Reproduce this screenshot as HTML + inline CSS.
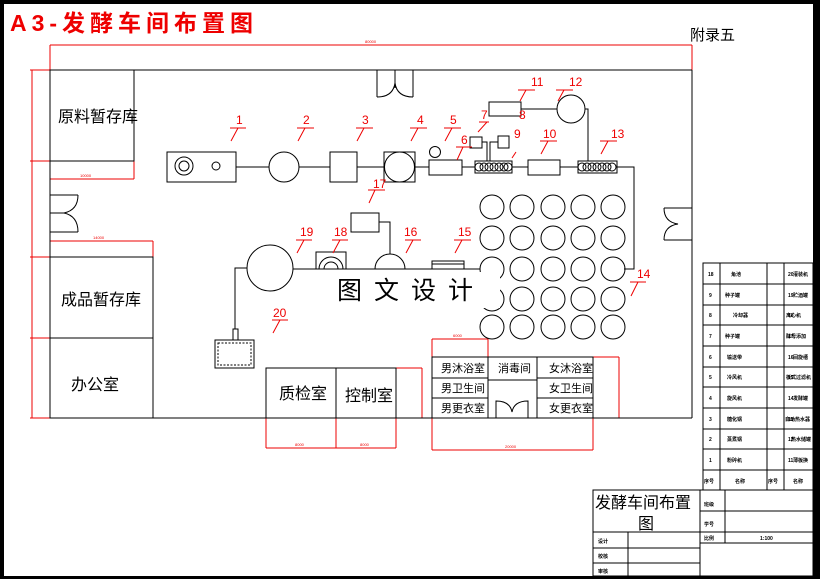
<!DOCTYPE html>
<html><head><meta charset="utf-8"><style>
html,body{margin:0;padding:0;background:#fff;}
svg{display:block;}
text{font-family:"Liberation Sans","Noto Sans CJK SC",sans-serif;}
</style></head><body>
<svg width="820" height="579" viewBox="0 0 820 579" xmlns="http://www.w3.org/2000/svg">
<rect x="0" y="0" width="820" height="579" fill="#fff"/>
<rect x="0" y="0" width="820" height="4" fill="#000"/>
<rect x="0" y="0" width="4" height="579" fill="#000"/>
<rect x="813" y="0" width="7" height="579" fill="#000"/>
<rect x="0" y="576" width="820" height="3" fill="#000"/>

<text x="10" y="31" font-size="23" fill="#e00" font-weight="bold" letter-spacing="5">A3-发酵车间布置图</text>
<text x="690" y="40" font-size="15" fill="#000" font-family="Noto Serif CJK SC,serif">附录五</text>

<g fill="none" stroke="#e00" stroke-width="1">
<line x1="50" y1="45" x2="692" y2="45"/><line x1="50" y1="45" x2="50" y2="70"/><line x1="692" y1="45" x2="692" y2="70"/>
<line x1="32" y1="70" x2="32" y2="418"/>
<line x1="30" y1="70" x2="50" y2="70"/><line x1="30" y1="161" x2="50" y2="161"/><line x1="30" y1="257" x2="50" y2="257"/><line x1="30" y1="338" x2="50" y2="338"/><line x1="30" y1="418" x2="50" y2="418"/>
<line x1="50" y1="179" x2="134" y2="179"/><line x1="134" y1="161" x2="134" y2="179"/>
<line x1="50" y1="241" x2="153" y2="241"/><line x1="153" y1="241" x2="153" y2="257"/>
<line x1="266" y1="418" x2="266" y2="448"/><line x1="336" y1="418" x2="336" y2="448"/><line x1="396" y1="368" x2="396" y2="448"/>
<line x1="266" y1="448" x2="396" y2="448"/>
<line x1="396" y1="368" x2="422" y2="368"/><line x1="422" y1="368" x2="422" y2="418"/>
<line x1="432" y1="339" x2="488" y2="339"/><line x1="432" y1="339" x2="432" y2="450"/><line x1="488" y1="339" x2="488" y2="357"/>
<line x1="432" y1="450" x2="593" y2="450"/><line x1="593" y1="418" x2="593" y2="450"/>
<line x1="593" y1="357" x2="619" y2="357"/><line x1="619" y1="357" x2="619" y2="418"/>
</g>
<g fill="#e00" font-size="4">
<text x="365" y="43">80000</text><text x="80" y="177">10000</text><text x="93" y="239">14000</text>
<text x="295" y="446">8000</text><text x="360" y="446">8000</text><text x="505" y="448">20000</text><text x="453" y="337">6000</text>
</g>

<g fill="none" stroke="#000" stroke-width="1">
<line x1="50" y1="70" x2="692" y2="70"/>
<line x1="692" y1="70" x2="692" y2="418"/>
<line x1="50" y1="418" x2="692" y2="418"/>
<line x1="50" y1="70" x2="50" y2="418"/>
<rect x="50" y="70" width="84" height="91"/>
<rect x="50" y="257" width="103" height="81"/>
<rect x="50" y="338" width="103" height="80"/>
<path d="M50 195 H78 M50 213 H64 M50 232 H78 M78 195 Q78 210 64 213 Q78 216 78 232"/>
<path d="M377 70 V97 M395 70 V88 M413 70 V97 M377 97 Q393 97 395 83 Q397 97 413 97"/>
<path d="M692 208 H664 M692 240 H664 M664 208 Q664 222 678 224 Q664 226 664 240"/>

<rect x="167" y="152" width="69" height="30"/>
<circle cx="184" cy="166" r="9"/><circle cx="184" cy="166" r="5"/><circle cx="216" cy="166" r="4"/>
<line x1="236" y1="167" x2="269" y2="167"/>
<circle cx="284" cy="167" r="15"/>
<line x1="299" y1="167" x2="330" y2="167"/>
<rect x="330" y="152" width="27" height="30"/>
<line x1="357" y1="167" x2="384" y2="167"/>
<rect x="384" y="152" width="31" height="30"/><circle cx="399.5" cy="167" r="15"/>
<line x1="415" y1="167" x2="429" y2="167"/>
<circle cx="435" cy="152" r="5.5"/>
<rect x="429" y="160" width="33" height="15"/>
<line x1="462" y1="167" x2="475" y2="167"/>
<rect x="475" y="161" width="37" height="12"/>
<g><circle cx="479" cy="167" r="4"/><circle cx="484" cy="167" r="4"/><circle cx="489" cy="167" r="4"/><circle cx="494" cy="167" r="4"/><circle cx="499" cy="167" r="4"/><circle cx="504" cy="167" r="4"/><circle cx="508" cy="167" r="4"/></g>
<rect x="470" y="137" width="12" height="11"/><rect x="498" y="136" width="11" height="12"/>
<path d="M482 142 H487 V161 M490 161 V142 H498"/>
<line x1="512" y1="167" x2="528" y2="167"/>
<rect x="528" y="160" width="32" height="15"/>
<line x1="560" y1="167" x2="578" y2="167"/>
<rect x="578" y="161" width="39" height="12"/>
<g><circle cx="582" cy="167" r="4"/><circle cx="587" cy="167" r="4"/><circle cx="592" cy="167" r="4"/><circle cx="597" cy="167" r="4"/><circle cx="602" cy="167" r="4"/><circle cx="607" cy="167" r="4"/><circle cx="612" cy="167" r="4"/></g>
<rect x="489" y="102" width="32" height="14"/>
<line x1="521" y1="109" x2="557" y2="109"/>
<circle cx="571" cy="109" r="14"/>
<path d="M585 109 H588 V161"/>
<path d="M617 167 H634 V269 H624"/>

<g>
<circle cx="492" cy="207" r="12"/><circle cx="522" cy="207" r="12"/><circle cx="553" cy="207" r="12"/><circle cx="583" cy="207" r="12"/><circle cx="613" cy="207" r="12"/>
<circle cx="492" cy="238" r="12"/><circle cx="522" cy="238" r="12"/><circle cx="553" cy="238" r="12"/><circle cx="583" cy="238" r="12"/><circle cx="613" cy="238" r="12"/>
<circle cx="492" cy="269" r="12"/><circle cx="522" cy="269" r="12"/><circle cx="553" cy="269" r="12"/><circle cx="583" cy="269" r="12"/><circle cx="613" cy="269" r="12"/>
<circle cx="492" cy="299" r="12"/><circle cx="522" cy="299" r="12"/><circle cx="553" cy="299" r="12"/><circle cx="583" cy="299" r="12"/><circle cx="613" cy="299" r="12"/>
<circle cx="492" cy="327" r="12"/><circle cx="522" cy="327" r="12"/><circle cx="553" cy="327" r="12"/><circle cx="583" cy="327" r="12"/><circle cx="613" cy="327" r="12"/>
</g>

<line x1="293" y1="269" x2="480" y2="269"/>
<circle cx="270" cy="268" r="23"/>
<path d="M247 268 H235 V329"/>
<rect x="233" y="329" width="5" height="11"/>
<rect x="215" y="340" width="39" height="28"/>
<rect x="316" y="252" width="30" height="17"/>
<path d="M319 269 A12 12 0 0 1 343 269 M324 269 A7 7 0 0 1 338 269"/>
<path d="M375 269 A15 15 0 0 1 405 269"/>
<rect x="351" y="213" width="28" height="19"/>
<path d="M379 222 H390 V254"/>
<rect x="432" y="261" width="32" height="8"/><line x1="432" y1="264" x2="464" y2="264"/>

<rect x="266" y="368" width="70" height="50"/>
<rect x="336" y="368" width="60" height="50"/>
<rect x="432" y="357" width="161" height="61"/>
<line x1="488" y1="357" x2="488" y2="418"/><line x1="537" y1="357" x2="537" y2="418"/>
<line x1="432" y1="378" x2="488" y2="378"/><line x1="432" y1="398" x2="488" y2="398"/>
<line x1="537" y1="378" x2="593" y2="378"/><line x1="537" y1="398" x2="593" y2="398"/>
<line x1="488" y1="380" x2="537" y2="380"/>
<path d="M496 418 V401 Q510 401 512 412 Q514 401 528 401 V418"/>
</g>
<rect x="218" y="343" width="33" height="22" fill="none" stroke="#000" stroke-dasharray="2 1.5"/>

<rect x="313" y="272" width="187" height="36" fill="#fff"/>
<text x="337" y="299" font-size="25" fill="#000" font-family="Noto Serif CJK SC,serif" letter-spacing="12">图文设计</text>

<g fill="#000" font-family="Noto Serif CJK SC,serif">
<text x="58" y="122" font-size="16">原料暂存库</text>
<text x="61" y="305" font-size="16">成品暂存库</text>
<text x="71" y="390" font-size="16">办公室</text>
<text x="279" y="399" font-size="16">质检室</text>
<text x="345" y="401" font-size="16">控制室</text>
<g font-size="11"><text x="441" y="372">男沐浴室</text><text x="441" y="392">男卫生间</text><text x="441" y="412">男更衣室</text>
<text x="498" y="372">消毒间</text><text x="549" y="372">女沐浴室</text><text x="549" y="392">女卫生间</text><text x="549" y="412">女更衣室</text></g>
</g>

<g fill="none" stroke="#e00" stroke-width="1">
<path d="M230 128 H246 M238 128 L231 141"/><path d="M297 128 H314 M305 128 L298 141"/>
<path d="M356 128 H373 M364 128 L357 141"/><path d="M410 128 H427 M418 128 L411 141"/>
<path d="M444 128 H461 M452 128 L445 141"/><path d="M456 147 H472 M463 147 L457 160"/>
<path d="M479 122 H489 M487 122 L478 132"/><path d="M518 90 H535 M526 90 L520 101"/>
<path d="M556 90 H573 M564 90 L558 101"/><path d="M540 141 H557 M548 141 L541 154"/>
<path d="M600 141 H617 M608 141 L601 154"/><path d="M516 152 L512 158"/>
<path d="M368 190 H385 M375 190 L369 203"/><path d="M296 240 H312 M304 240 L297 253"/>
<path d="M332 240 H348 M340 240 L333 253"/><path d="M405 240 H421 M413 240 L406 253"/>
<path d="M454 240 H471 M462 240 L455 253"/><path d="M630 282 H646 M638 282 L631 296"/>
<path d="M272 320 H288 M280 320 L273 333"/>
</g>
<g fill="#e00" font-size="12">
<text x="236" y="124">1</text><text x="303" y="124">2</text><text x="362" y="124">3</text><text x="417" y="124">4</text>
<text x="450" y="124">5</text><text x="461" y="144">6</text><text x="481" y="119">7</text><text x="519" y="119">8</text>
<text x="514" y="138">9</text><text x="543" y="138">10</text><text x="531" y="86">11</text><text x="569" y="86">12</text>
<text x="611" y="138">13</text><text x="637" y="278">14</text><text x="458" y="236">15</text><text x="404" y="236">16</text>
<text x="373" y="188">17</text><text x="334" y="236">18</text><text x="300" y="236">19</text><text x="273" y="317">20</text>
</g>

<g fill="none" stroke="#000" stroke-width="1">
<rect x="703" y="263" width="110" height="227"/>
<line x1="720" y1="263" x2="720" y2="490"/><line x1="767" y1="263" x2="767" y2="490"/><line x1="784" y1="263" x2="784" y2="490"/>
<line x1="703" y1="284" x2="813" y2="284"/><line x1="703" y1="305" x2="813" y2="305"/><line x1="703" y1="325" x2="813" y2="325"/>
<line x1="703" y1="346" x2="813" y2="346"/><line x1="703" y1="367" x2="813" y2="367"/><line x1="703" y1="387" x2="813" y2="387"/>
<line x1="703" y1="408" x2="813" y2="408"/><line x1="703" y1="429" x2="813" y2="429"/><line x1="703" y1="449" x2="813" y2="449"/>
<line x1="703" y1="470" x2="813" y2="470"/>
<rect x="593" y="490" width="220" height="86"/>
<line x1="700" y1="490" x2="700" y2="576"/>
<line x1="593" y1="532" x2="700" y2="532"/><line x1="593" y1="548" x2="700" y2="548"/><line x1="593" y1="563" x2="700" y2="563"/>
<line x1="628" y1="532" x2="628" y2="576"/>
<line x1="700" y1="511" x2="813" y2="511"/><line x1="700" y1="532" x2="813" y2="532"/><line x1="700" y1="543" x2="813" y2="543"/>
<line x1="725" y1="490" x2="725" y2="543"/>
</g>
<g fill="#000" font-size="5" font-weight="bold">
<text x="708" y="276">18</text><text x="731" y="276">角池</text><text x="788" y="276">20</text><text x="793" y="276">灌装机</text>
<text x="709" y="297">9</text><text x="725" y="297">种子罐</text><text x="788" y="297">19</text><text x="793" y="297">贮酒罐</text>
<text x="709" y="317">8</text><text x="733" y="317">冷却器</text><text x="788" y="317">18</text><text x="786" y="317">离心机</text>
<text x="709" y="338">7</text><text x="725" y="338">种子罐</text><text x="788" y="338">17</text><text x="786" y="338">酵母添加</text>
<text x="709" y="359">6</text><text x="727" y="359">输送带</text><text x="788" y="359">16</text><text x="793" y="359">回旋槽</text>
<text x="709" y="379">5</text><text x="727" y="379">冷风机</text><text x="788" y="379">15</text><text x="786" y="379">板式过滤机</text>
<text x="709" y="400">4</text><text x="727" y="400">旋风机</text><text x="788" y="400">14</text><text x="793" y="400">发酵罐</text>
<text x="709" y="421">3</text><text x="727" y="421">糖化锅</text><text x="788" y="421">13</text><text x="785" y="421">自动热水器</text>
<text x="709" y="441">2</text><text x="727" y="441">蒸煮锅</text><text x="788" y="441">12</text><text x="791" y="441">热水储罐</text>
<text x="709" y="462">1</text><text x="727" y="462">粉碎机</text><text x="788" y="462">11</text><text x="793" y="462">薄板换</text>
<text x="704" y="483">序号</text><text x="735" y="483">名称</text><text x="768" y="483">序号</text><text x="793" y="483">名称</text>
<text x="704" y="506">班级</text><text x="704" y="526">学号</text><text x="704" y="540">比例</text><text x="760" y="540">1:100</text>
<text x="598" y="543">设计</text><text x="598" y="558">校核</text><text x="598" y="573">审核</text>
</g>
<text x="595" y="508" font-size="16" fill="#000" font-family="Noto Serif CJK SC,serif">发酵车间布置</text>
<text x="638" y="529" font-size="16" fill="#000" font-family="Noto Serif CJK SC,serif">图</text>
</svg>
</body></html>
